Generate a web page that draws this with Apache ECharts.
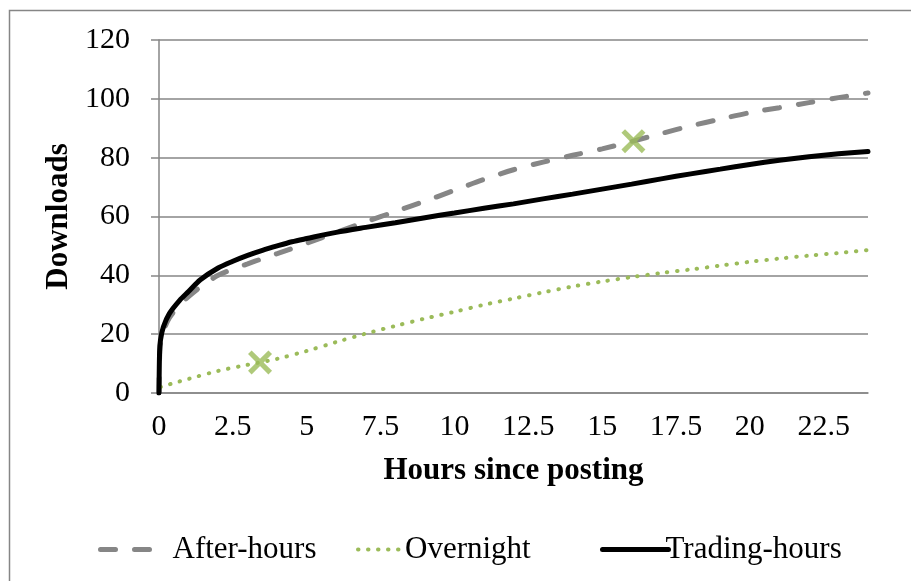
<!DOCTYPE html>
<html>
<head>
<meta charset="utf-8">
<script src="https://cdn.jsdelivr.net/npm/echarts@6/dist/echarts.min.js"></script>
<style>
html,body{margin:0;padding:0;background:#fff;}
#chart{width:911px;height:581px;}
</style>
</head>
<body>
<div id="chart"></div>
<script>
// ---- Data ----
var xTickLabels = ['0','2.5','5','7.5','10','12.5','15','17.5','20','22.5'];
var yTickLabels = ['0','20','40','60','80','100','120'];

var afterHoursX = [0, 0.02, 0.05, 0.15, 0.35, 0.7, 1, 1.5, 2, 2.5, 3, 3.5, 4, 5, 6, 7, 8, 9, 10, 11, 12, 13, 14, 15, 16, 17, 18, 19, 20, 21, 22, 23, 24];
var afterHoursY = [0, 12, 16.5, 21, 25.5, 30, 32.8, 36.8, 40, 42.1, 43.9, 45.7, 47.4, 50.9, 54.6, 58.2, 61.7, 65.2, 68.9, 72.6, 75.9, 78.5, 80.8, 83.0, 85.5, 88.2, 90.8, 93.1, 95.3, 97.0, 98.7, 100.4, 102];

var overnightX = [0.05, 0.5, 1, 2, 3, 4, 5, 6, 7, 8, 9, 10, 11, 12, 13, 14, 15, 16, 17, 18, 19, 20, 21, 22, 23, 24];
var overnightY = [2, 3.4, 4.8, 7.5, 9.6, 11.6, 14.3, 17.3, 20.2, 22.8, 25.3, 27.6, 30.0, 32.1, 34.2, 36.2, 37.9, 39.4, 40.8, 42.0, 43.3, 44.6, 45.7, 46.7, 47.6, 48.6];

var tradingX = [0, 0.02, 0.05, 0.15, 0.35, 0.7, 1, 1.4, 2, 2.5, 3, 3.5, 4, 4.5, 5, 6, 7, 8, 9, 10, 11, 12, 13, 14, 15, 16, 17, 18, 19, 20, 21, 22, 23, 24];
var tradingY = [0, 14, 18, 22.5, 27, 31.5, 34.5, 38.5, 42.5, 44.8, 46.8, 48.5, 50, 51.4, 52.5, 54.6, 56.3, 57.9, 59.6, 61.2, 62.8, 64.3, 66, 67.6, 69.3, 71, 72.8, 74.5, 76.1, 77.7, 79.1, 80.3, 81.3, 82.1];

var markerX = [3.42, 16.06];
var markerY = [10.4, 85.6];

function pairs(xs, ys){ return xs.map(function(x,i){ return [x, ys[i]]; }); }

var FONT = '"Liberation Serif", "Times New Roman", serif';
var GRAY = '#868686';
var GREEN = '#9BBB59';

var chart = echarts.init(document.getElementById('chart'), null, {renderer:'canvas'});

var xSymbol = 'path://M3,0 L10,7 L17,0 L20,3 L13,10 L20,17 L17,20 L10,13 L3,20 L0,17 L7,10 L0,3 Z';
var legendItemStyle = {color: 'rgba(0,0,0,0)', borderColor: 'rgba(0,0,0,0)', borderWidth: 0};

chart.setOption({
  backgroundColor: '#fff',
  animation: false,
  graphic: [{
    type: 'rect',
    shape: {x: 9.5, y: 10.5, width: 1000, height: 1000},
    style: {fill: 'none', stroke: GRAY, lineWidth: 1.5},
    silent: true, z: -1
  }],
  grid: {left: 159, right: 43, top: 40, bottom: 188, containLabel: false},
  xAxis: {
    type: 'value', min: 0, max: 24, interval: 2.5,
    name: 'Hours since posting', nameLocation: 'middle', nameGap: 62,
    nameTextStyle: {fontFamily: FONT, fontSize: 31, fontWeight: 'bold', color: '#000'},
    axisLine: {show: true, lineStyle: {color: GRAY, width: 1.5}},
    axisTick: {show: false},
    splitLine: {show: false},
    axisLabel: {
      fontFamily: FONT, fontSize: 30, color: '#000', margin: 19,
      showMaxLabel: false, showMinLabel: true,
      formatter: function(v){ var i = Math.round(v/2.5); return (Math.abs(v - i*2.5) < 1e-6 && i < xTickLabels.length) ? xTickLabels[i] : ''; }
    }
  },
  yAxis: {
    type: 'value', min: 0, max: 120, interval: 20,
    name: 'Downloads', nameLocation: 'middle', nameGap: 85, nameRotate: 90,
    nameTextStyle: {fontFamily: FONT, fontSize: 31, fontWeight: 'bold', color: '#000'},
    axisLine: {show: true, lineStyle: {color: GRAY, width: 1.5}},
    axisTick: {show: true, length: 8, lineStyle: {color: GRAY, width: 1.5}},
    splitLine: {show: true, lineStyle: {color: GRAY, width: 1.5}},
    axisLabel: {
      fontFamily: FONT, fontSize: 30, color: '#000', margin: 29,
      formatter: function(v){ var i = Math.round(v/20); return yTickLabels[i] || ''; }
    }
  },
  legend: [
    {left: 93, top: 529, itemWidth: 55, itemHeight: 20, data: ['After-hours'], itemStyle: legendItemStyle,
     lineStyle: {width: 5},
     textStyle: {fontFamily: FONT, fontSize: 31, color: '#000', padding: [0,0,0,12]}},
    {left: 351, top: 529, itemWidth: 46, itemHeight: 20, data: ['Overnight'], itemStyle: legendItemStyle,
     lineStyle: {width: 4},
     textStyle: {fontFamily: FONT, fontSize: 31, color: '#000', padding: [0,0,0,-4]}},
    {left: 595, top: 529, itemWidth: 66, itemHeight: 20, data: ['Trading-hours'], itemStyle: legendItemStyle,
     lineStyle: {width: 5},
     textStyle: {fontFamily: FONT, fontSize: 31, color: '#000', padding: [0,0,0,-8]}}
  ],
  series: [
    {
      name: 'After-hours', type: 'line', data: pairs(afterHoursX, afterHoursY),
      smooth: 0.3, symbol: 'circle', showSymbol: false,
      lineStyle: {color: GRAY, width: 5, type: [15, 19], cap: 'round'},
      itemStyle: {color: GRAY}, z: 2
    },
    {
      name: 'Overnight', type: 'line', data: pairs(overnightX, overnightY),
      smooth: 0.3, symbol: 'circle', showSymbol: false,
      lineStyle: {color: GREEN, width: 4, type: [0.5, 9.5], cap: 'round'},
      itemStyle: {color: GREEN}, z: 2
    },
    {
      name: 'Trading-hours', type: 'line', data: pairs(tradingX, tradingY),
      smooth: 0.3, symbol: 'circle', showSymbol: false,
      lineStyle: {color: '#000', width: 5, cap: 'round'},
      itemStyle: {color: '#000'}, z: 3
    },
    {
      name: 'markers', type: 'scatter', data: pairs(markerX, markerY),
      symbol: xSymbol, symbolSize: 24,
      itemStyle: {color: GREEN}, z: 5
    }
  ]
});
</script>
</body>
</html>
